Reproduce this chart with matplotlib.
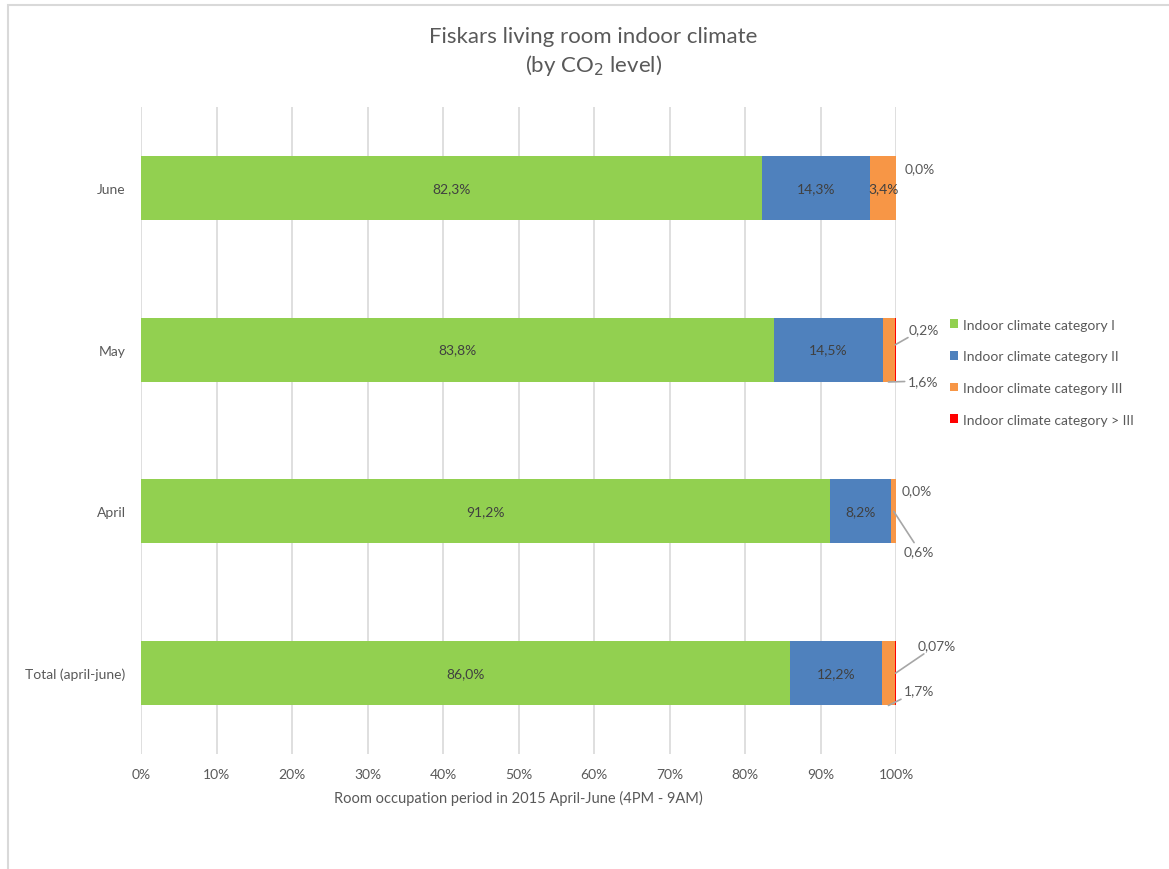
import matplotlib.pyplot as plt
from matplotlib.patches import Patch, Rectangle

plt.rcParams['font.family'] = ['Lato', 'DejaVu Sans']

# data (percent of occupation period)
months = ['Total (april-june)', 'April', 'May', 'June']
cat1 = [86.0, 91.2, 83.8, 82.3]
cat2 = [12.2, 8.2, 14.5, 14.3]
cat3 = [1.7, 0.6, 1.6, 3.4]
cat4 = [0.07, 0.0, 0.2, 0.0]
series_names = ['Indoor climate category I', 'Indoor climate category II',
                'Indoor climate category III', 'Indoor climate category > III']
colors = ['#92D050', '#4F81BD', '#F79646', '#FF0000']

TXT = '#595959'
GRID = '#D9D9D9'


def fmt(v, dec=1):
    return f"{v:.{dec}f}%".replace('.', ',')


fig = plt.figure(figsize=(11.69, 8.70), dpi=100)
ax = fig.add_axes([141 / 1169, 1 - 755 / 870, 755 / 1169, 647 / 870])

# outer chart frame (cut off on the right and bottom like the original)
fig.patches.append(Rectangle((8 / 1169, -0.1), 1.2, 1 - 6 / 870 + 0.1,
                             transform=fig.transFigure, fill=False,
                             edgecolor=GRID, lw=1.5))

y = list(range(len(months)))
h = 0.395
left = [0.0] * len(months)
bars = []
for vals, col, name in zip([cat1, cat2, cat3, cat4], colors, series_names):
    ax.barh(y, vals, left=left, height=h, color=col, label=name, zorder=3)
    bars.append((list(left), vals))
    left = [l + v for l, v in zip(left, vals)]

# inside labels for the big segments
lab_col = '#404040'
for lefts, vals in bars[:2]:
    for yi, l, v in zip(y, lefts, vals):
        ax.text(l + v / 2, yi, fmt(v), ha='center', va='center',
                fontsize=10, color=lab_col, zorder=5)

# June orange label sits inside its segment
l3, _ = bars[2]
ax.text(l3[3] + cat3[3] / 2, 3, fmt(cat3[3]), ha='center', va='center',
        fontsize=10, color=lab_col, zorder=5)

lead = dict(arrowstyle='-', color='#A6A6A6', lw=1.2, shrinkA=0, shrinkB=0)


def outside(txt, xy, off, line=True, **kw):
    ap = dict(lead, **kw) if line else None
    ax.annotate(txt, xy=xy, xytext=off, textcoords='offset pixels',
                ha='left', va='center', fontsize=10, color=TXT, arrowprops=ap)


# June
outside(fmt(cat4[3]), (100, 3), (9, 20), line=False)
# May
outside(fmt(cat4[2]), (99.9, 2.03), (13, 16))
outside(fmt(cat3[2]), (99.0, 1.80), (19, 1))
# April
outside(fmt(cat4[1]), (100, 1), (6, 21), line=False)
outside(fmt(cat3[1]), (99.7, 1.0), (10, -40), relpos=(0.4, 1.0))
# Total
outside(fmt(cat4[0], 2), (99.95, 0.0), (22, 28))
outside(fmt(cat3[0]), (99.0, -0.2), (15, 15))

ax.set_xlim(0, 100)
ax.set_ylim(-0.5, 3.5)
ax.set_xticks(range(0, 101, 10))
ax.set_xticklabels([f"{t}%" for t in range(0, 101, 10)])
ax.set_yticks(y)
ax.set_yticklabels(months)
ax.tick_params(axis='both', length=0, labelsize=10, colors=TXT)
ax.tick_params(axis='x', pad=10)
ax.tick_params(axis='y', pad=11)
ax.grid(axis='x', color=GRID, lw=1.2, zorder=0)
for s in ax.spines.values():
    s.set_visible(False)

ax.set_xlabel('Room occupation period in 2015 April-June (4PM - 9AM)',
              fontsize=10.5, color=TXT, labelpad=7)

fig.text(0.5075, 1 - 37 / 870, 'Fiskars living room indoor climate', ha='center',
         va='center', fontsize=16, color=TXT)
fig.text(0.5075, 1 - 66 / 870, r'(by CO$_2$ level)', ha='center', va='center',
         fontsize=16, color=TXT)

handles = [Patch(facecolor=c, label=n) for c, n in zip(colors, series_names)]
fig.legend(handles=handles, loc='upper left', bbox_to_anchor=(937 / 1169, 1 - 307 / 870),
           frameon=False, fontsize=10, labelcolor=TXT, handlelength=0.6,
           handleheight=0.6, handletextpad=0.4, labelspacing=1.42)

fig.savefig('out.png', dpi=100)
